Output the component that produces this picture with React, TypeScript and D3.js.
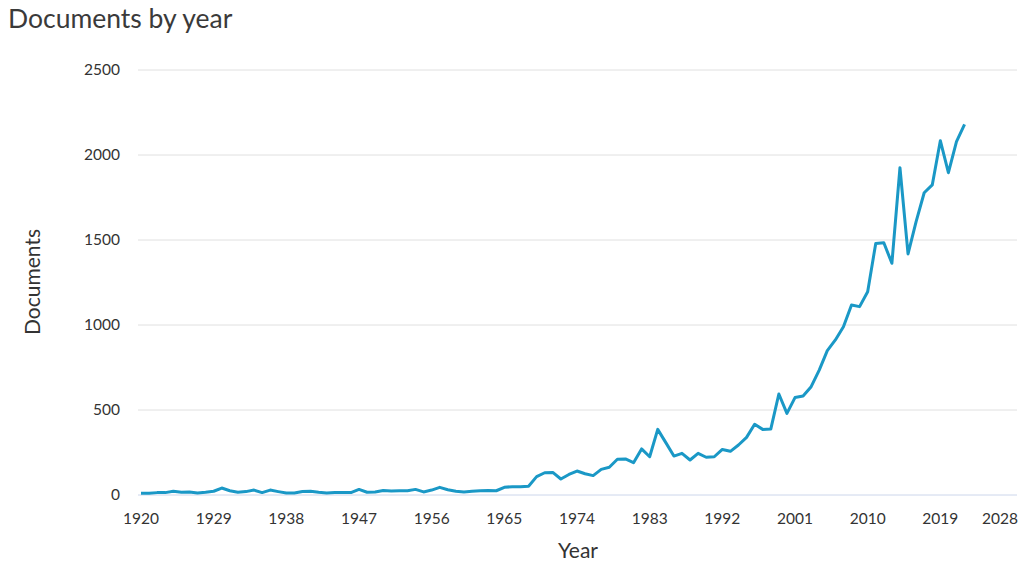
import * as d3 from 'd3';
import React, { useRef, useEffect } from 'react';

const years = d3.range(1920, 2023);
// documents per year
const docs = [
  10, 10, 14, 14, 22, 16, 18, 12, 16, 22,
  41, 25, 16, 20, 29, 14, 29, 20, 12, 12,
  20, 22, 16, 12, 14, 14, 14, 33, 16, 18,
  27, 24, 25, 25, 33, 18, 29, 45, 31, 22,
  18, 22, 25, 27, 25, 45, 49, 49, 52, 108,
  131, 133, 94, 121, 141, 125, 114, 151, 163, 210,
  212, 190, 271, 225, 386, 308, 229, 245, 206, 245,
  222, 225, 268, 257, 294, 339, 416, 386, 388, 594,
  480, 573, 582, 637, 735, 849, 912, 990, 1118, 1108,
  1196, 1480, 1484, 1363, 1925, 1418, 1608, 1778, 1824, 2084,
  1896, 2078, 2180,
];
const xTicks = d3.range(1920, 2029, 9);
const yTicks = [0, 500, 1000, 1500, 2000, 2500];

const W = 1022, H = 565;
const margin = { top: 70, right: 5, bottom: 70, left: 138 };
const FONT = 'Lato, "Open Sans", sans-serif';

function App() {
  const ref = useRef<SVGSVGElement>(null);

  useEffect(() => {
    const svg = d3.select(ref.current);
    svg.selectAll('*').remove();

    const x = d3.scaleLinear().domain([1920, 2028]).range([141, 1013]);
    const y = d3.scaleLinear().domain([0, 2500]).range([495, 70]);
    const gridRight = W - margin.right;

    svg.append('text')
      .attr('x', 8).attr('y', 28)
      .attr('font-family', FONT).attr('font-size', 26.5)
      .attr('fill', '#3a3a3a')
      .text('Documents by year');

    // grid
    svg.append('g').selectAll('line')
      .data(yTicks.filter(d => d > 0))
      .enter().append('line')
      .attr('x1', margin.left).attr('x2', gridRight)
      .attr('y1', d => y(d)).attr('y2', d => y(d))
      .attr('stroke', '#e0e0e0').attr('stroke-width', 1);

    svg.append('line')
      .attr('x1', margin.left).attr('x2', gridRight)
      .attr('y1', y(0)).attr('y2', y(0))
      .attr('stroke', '#ccd6eb').attr('stroke-width', 1);

    // y labels
    svg.append('g').selectAll('text')
      .data(yTicks)
      .enter().append('text')
      .attr('x', 120).attr('y', d => y(d) + 5)
      .attr('text-anchor', 'end')
      .attr('font-family', FONT).attr('font-size', 15.5)
      .attr('fill', '#333')
      .text(d => d);

    // x labels
    svg.append('g').selectAll('text')
      .data(xTicks)
      .enter().append('text')
      .attr('x', d => d === 2028 ? gridRight + 1 : x(d))
      .attr('y', 524)
      .attr('text-anchor', d => d === 2028 ? 'end' : 'middle')
      .attr('font-family', FONT).attr('font-size', 15.5)
      .attr('fill', '#333')
      .text(d => d);

    svg.append('text')
      .attr('x', 578).attr('y', 558)
      .attr('text-anchor', 'middle')
      .attr('font-family', FONT).attr('font-size', 21)
      .attr('fill', '#333')
      .text('Year');

    svg.append('text')
      .attr('transform', 'translate(40,282) rotate(-90)')
      .attr('text-anchor', 'middle')
      .attr('font-family', FONT).attr('font-size', 21)
      .attr('fill', '#333')
      .text('Documents');

    const line = d3.line<number>()
      .x((d, i) => x(years[i]))
      .y(d => y(d));

    svg.append('path')
      .datum(docs)
      .attr('d', line)
      .attr('fill', 'none')
      .attr('stroke', '#1a98c6')
      .attr('stroke-width', 3)
      .attr('stroke-linejoin', 'round');
  }, []);

  return (
    <svg ref={ref} width={W} height={H}
      style={{ position: 'absolute', left: 0, top: 0, background: '#fff' }} />
  );
}

export default App;
